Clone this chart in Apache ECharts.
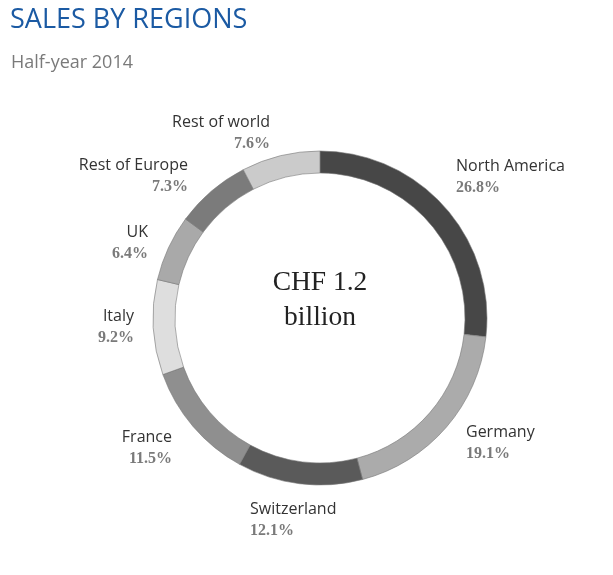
<!DOCTYPE html>
<html><head><meta charset="utf-8">
<script src="https://cdn.jsdelivr.net/npm/echarts@6/dist/echarts.min.js"></script>
<style>html,body{margin:0;padding:0;background:#fff;}#c{width:613px;height:575px;}</style>
</head><body><div id="c"></div>
<script>
const regions = ['North America','Germany','Switzerland','France','Italy','UK','Rest of Europe','Rest of world'];
const shares = [26.8, 19.1, 12.1, 11.5, 9.2, 6.4, 7.3, 7.6];
const titleText = 'SALES BY REGIONS';
const subtitleText = 'Half-year 2014';
const centerText = 'CHF 1.2\nbillion';

const sliceColors = ['#474747','#ababab','#5a5a5a','#8f8f8f','#dedede','#a9a9a9','#7b7b7b','#cbcbcb'];
// label anchors (layout only)
const labelAnchors = {
  'North America': {x:456, y:156, align:'left'},
  'Germany': {x:466, y:422, align:'left'},
  'Switzerland': {x:250, y:499, align:'left'},
  'France': {x:172, y:427, align:'right'},
  'Italy': {x:134, y:306, align:'right'},
  'UK': {x:148, y:222, align:'right'},
  'Rest of Europe': {x:188, y:155, align:'right'},
  'Rest of world': {x:270, y:112, align:'right'}
};

const chart = echarts.init(document.getElementById('c'), null, {renderer:'canvas'});
chart.setOption({
  backgroundColor:'#fff',
  animation:false,
  title:[{
    text:titleText, left:5, top:2,
    textStyle:{fontFamily:'Open Sans', fontSize:27, fontWeight:500, color:'#1b5aa3'}
  },{
    text:subtitleText, left:6, top:49,
    textStyle:{fontFamily:'Open Sans', fontSize:18, fontWeight:'normal', color:'#7a7a7a'}
  }],
  graphic:[{
    type:'text',
    x:320, y:300,
    style:{text:centerText, fontFamily:'Liberation Serif', fontSize:27.5, lineHeight:35,
      fill:'#222', align:'center', verticalAlign:'middle'}
  }],
  series:[{
    type:'pie',
    center:[320,318],
    radius:[145,167],
    startAngle:90,
    clockwise:true,
    avoidLabelOverlap:false,
    data:regions.map((r,i)=>({name:r, value:shares[i], itemStyle:{color:sliceColors[i]}})),
    itemStyle:{borderColor:'#777', borderWidth:0.6},
    emphasis:{disabled:true},
    label:{
      show:true, position:'outside',
      formatter:(p)=>'{n|'+p.name+'}\n{p|'+shares[p.dataIndex].toFixed(1)+'%}',
      rich:{
        n:{fontFamily:'Open Sans', fontSize:16, color:'#333', lineHeight:21},
        p:{fontFamily:'Liberation Serif', fontSize:16, fontWeight:'bold', color:'#7a7a7a', lineHeight:21}
      }
    },
    labelLine:{show:false},
    labelLayout:(params)=>{
      const a = labelAnchors[regions[params.dataIndex]];
      return {x:a.x, y:a.y, align:a.align, verticalAlign:'top'};
    }
  }]
});
</script></body></html>
